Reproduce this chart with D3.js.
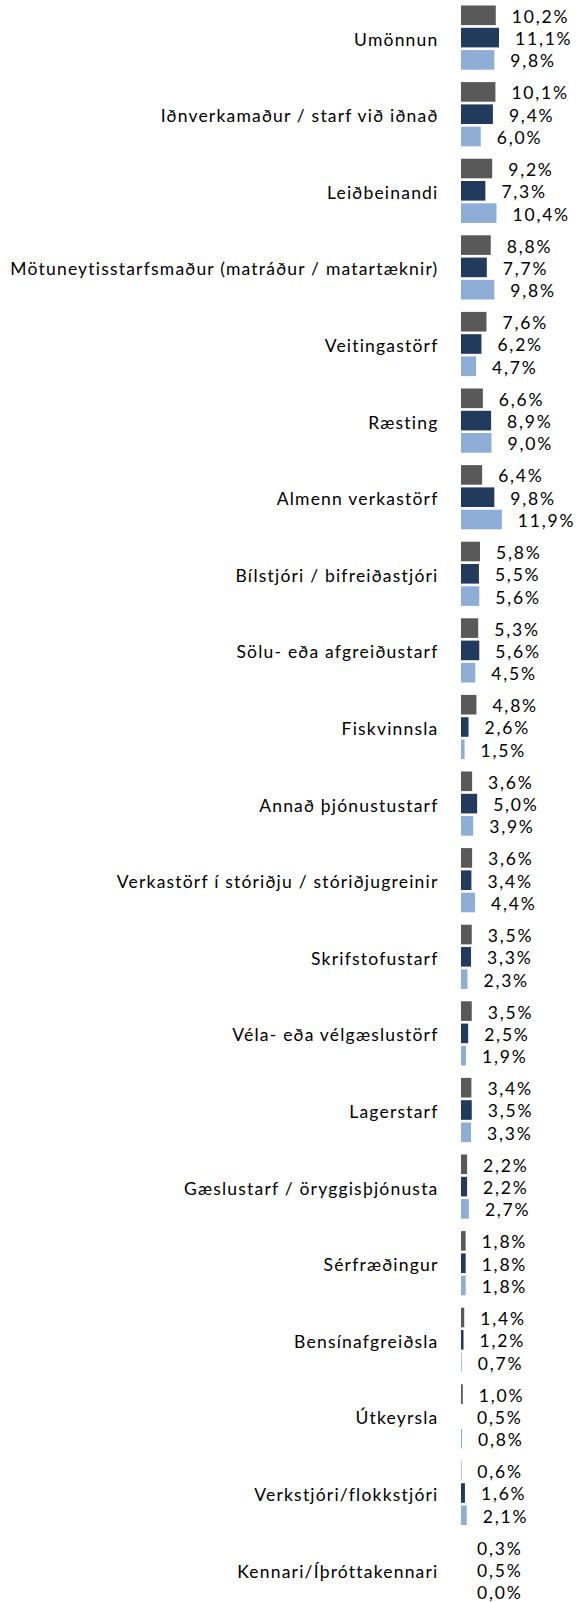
<!DOCTYPE html>
<html>
<head>
<meta charset="utf-8">
<script src="https://cdn.jsdelivr.net/npm/d3@7"></script>
<style>
  body { margin: 0; background: #fff; }
  svg { display: block; }
  text { font-family: Lato, "Open Sans", sans-serif; fill: #000; }
</style>
</head>
<body>
<svg id="chart" width="576" height="1602"></svg>
<script>
var categories = ["Umönnun", "Iðnverkamaður / starf við iðnað", "Leiðbeinandi",
    "Mötuneytisstarfsmaður (matráður / matartæknir)", "Veitingastörf", "Ræsting",
    "Almenn verkastörf", "Bílstjóri / bifreiðastjóri", "Sölu- eða afgreiðustarf",
    "Fiskvinnsla", "Annað þjónustustarf", "Verkastörf í stóriðju / stóriðjugreinir",
    "Skrifstofustarf", "Véla- eða vélgæslustörf", "Lagerstarf",
    "Gæslustarf / öryggisþjónusta", "Sérfræðingur", "Bensínafgreiðsla",
    "Útkeyrsla", "Verkstjóri/flokkstjóri", "Kennari/Íþróttakennari"];
var seriesA = [10.2, 10.1, 9.2, 8.8, 7.6, 6.6, 6.4, 5.8, 5.3, 4.8, 3.6, 3.6, 3.5, 3.5, 3.4, 2.2, 1.8, 1.4, 1.0, 0.6, 0.3];
var seriesB = [11.1, 9.4, 7.3, 7.7, 6.2, 8.9, 9.8, 5.5, 5.6, 2.6, 5.0, 3.4, 3.3, 2.5, 3.5, 2.2, 1.8, 1.2, 0.5, 1.6, 0.5];
var seriesC = [9.8, 6.0, 10.4, 9.8, 4.7, 9.0, 11.9, 5.6, 4.5, 1.5, 3.9, 4.4, 2.3, 1.9, 3.3, 2.7, 1.8, 0.7, 0.8, 2.1, 0.0];
var seriesKeys = ["a", "b", "c"];
var colors = ["#595959", "#223A5E", "#8EAED8"];

var svg = d3.select("#chart");
var groupStep = 76.6;

var y0 = d3.scaleBand()
    .domain(categories)
    .range([-0.5, -0.5 + groupStep * categories.length])
    .paddingInner(0);

var y1 = d3.scaleBand()
    .domain(seriesKeys)
    .range([6.0, 6.0 + 64.2])
    .paddingInner(0.12);

var x = d3.scaleLinear()
    .domain([0.5, 12])
    .range([461, 461 + 3.585 * 11.5])
    .clamp(true);

var fmt = function(v) { return d3.format(".1f")(v).replace(".", ",") + "%"; };

var rows = categories.map(function(c, i) {
    return {cat: c, vals: [seriesA[i], seriesB[i], seriesC[i]]};
});

var g = svg.selectAll(".group").data(rows).enter()
    .append("g")
    .attr("class", "group")
    .attr("transform", function(d) { return "translate(0," + y0(d.cat) + ")"; });

g.append("text")
    .attr("class", "cat-label")
    .attr("text-anchor", "end")
    .attr("font-size", "17.5px")
    .attr("letter-spacing", "1.2px")
    .attr("x", 438.5)
    .attr("y", y1("b") + y1.bandwidth() / 2 + 1.5)
    .attr("dominant-baseline", "central")
    .text(function(d) { return d.cat; });

g.selectAll("rect").data(function(d) { return d.vals; }).enter()
    .append("rect")
    .attr("x", x.range()[0])
    .attr("y", function(v, i) { return y1(seriesKeys[i]); })
    .attr("width", function(v) { return x(v) - x.range()[0]; })
    .attr("height", y1.bandwidth())
    .attr("fill", function(v, i) { return colors[i]; });

g.selectAll(".val-label").data(function(d) { return d.vals; }).enter()
    .append("text")
    .attr("class", "val-label")
    .attr("font-size", "17.5px")
    .attr("letter-spacing", "1.8px")
    .attr("x", function(v) { return x(v) + 16; })
    .attr("y", function(v, i) { return y1(seriesKeys[i]) + y1.bandwidth() / 2 + 1; })
    .attr("dominant-baseline", "central")
    .text(fmt);
</script>
</body>
</html>
